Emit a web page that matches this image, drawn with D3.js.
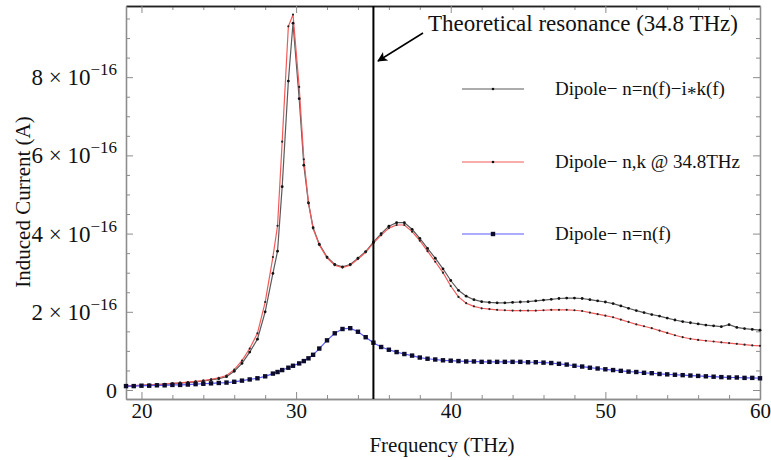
<!DOCTYPE html>
<html>
<head>
<meta charset="utf-8">
<script src="https://cdn.jsdelivr.net/npm/d3@7"></script>
<style>
  body { margin: 0; background: #fff; }
  svg { display: block; }
  text { font-family: "Liberation Serif", "Times New Roman", serif; fill: #111; }
</style>
</head>
<body>
<svg id="chart"></svg>
<script>
// frequencies in THz (finer sampling around the sharp peak)
const freq = [19,19.5,20,20.5,21,21.5,22,22.5,23,23.5,24,24.5,25,25.5,26,26.5,27,27.5,28,28.5,
  28.8,29.1,29.5,29.8,30.2,30.5,30.8,31.1,
  31.5,32,32.5,33,33.5,34,34.5,35,35.5,36,36.5,37,37.5,38,38.5,39,39.5,40,40.5,41,41.5,42,42.5,43,43.5,44,44.5,
  45,45.5,46,46.5,47,47.5,48,48.5,49,49.5,50,50.5,51,51.5,52,52.5,53,53.5,54,54.5,55,55.5,56,56.5,57,57.5,58,58.5,59,59.5,60];

// induced current, in units of 1e-16 A
const currentNK = [0.10,0.11,0.12,0.13,0.14,0.15,0.16,0.18,0.19,0.21,0.23,0.26,0.29,0.34,0.48,0.68,0.97,1.30,2.00,2.98,
  3.55,5.20,7.90,9.38,7.45,5.75,4.78,4.15,
  3.73,3.40,3.21,3.15,3.21,3.37,3.54,3.78,4.00,4.19,4.28,4.28,4.11,3.88,3.62,3.37,3.10,2.80,2.55,2.40,2.31,2.26,2.24,2.23,2.23,2.24,2.25,
  2.26,2.28,2.30,2.32,2.34,2.35,2.35,2.34,2.31,2.28,2.25,2.21,2.15,2.09,2.03,1.98,1.93,1.89,1.84,1.79,1.75,1.72,1.69,1.66,1.64,1.62,1.67,1.60,1.57,1.55,1.53];

const currentFixed = [0.10,0.11,0.12,0.13,0.14,0.15,0.17,0.18,0.20,0.22,0.24,0.27,0.31,0.37,0.52,0.75,1.06,1.45,2.25,3.40,
  4.20,6.35,9.30,9.60,7.75,5.90,4.80,4.13,
  3.71,3.38,3.19,3.13,3.19,3.35,3.52,3.76,3.96,4.14,4.22,4.22,4.05,3.82,3.55,3.28,3.00,2.66,2.38,2.22,2.14,2.09,2.07,2.05,2.04,2.03,2.03,
  2.03,2.03,2.04,2.05,2.05,2.05,2.04,2.02,1.98,1.94,1.90,1.86,1.80,1.74,1.68,1.63,1.58,1.52,1.46,1.40,1.35,1.31,1.28,1.26,1.24,1.22,1.20,1.18,1.16,1.14,1.13];

const currentN = [0.10,0.10,0.11,0.11,0.12,0.12,0.13,0.13,0.14,0.15,0.16,0.17,0.18,0.19,0.21,0.24,0.27,0.30,0.35,0.42,
  0.46,0.51,0.57,0.62,0.68,0.74,0.81,0.90,
  1.06,1.27,1.45,1.56,1.58,1.49,1.35,1.21,1.10,1.03,0.97,0.92,0.88,0.83,0.80,0.78,0.76,0.75,0.74,0.73,0.73,0.72,0.72,0.72,0.72,0.72,0.72,
  0.71,0.71,0.70,0.69,0.67,0.65,0.62,0.60,0.57,0.55,0.53,0.51,0.49,0.47,0.46,0.44,0.43,0.41,0.40,0.39,0.38,0.37,0.36,0.35,0.34,0.33,0.32,0.32,0.31,0.31,0.30];

// legend labels; the "∗" part is split so it can be drawn as a centred asterisk
const seriesNames = [["Dipole\u2212 n=n(f)\u2212i", "*", "k(f)"], ["Dipole\u2212 n,k @ 34.8THz"], ["Dipole\u2212 n=n(f)"]];
const xTicks = [20, 30, 40, 50, 60];
const xMinor = d3.range(20, 61, 2);
const yTicks = [0, 2, 4, 6, 8];
const yMinor = d3.range(0, 9.6, 0.5);
const resonance = 35;
const annotation = "Theoretical resonance (34.8 THz)";

const width = 771, height = 460;
const svg = d3.select("#chart").attr("width", width).attr("height", height);

const x = d3.scaleLinear().domain([19, 60]).range([126, 760]);
const y = d3.scaleLinear().domain([-0.23, 9.82]).range([399, 6]);

const frameGray = "#8c8c8c";

// frame + ticks (ticks point inward)
function drawSide(axisFn, scale, majors, minors, transform, stroke, labels) {
  const minorG = svg.append("g").attr("transform", transform)
    .call(axisFn(scale).tickValues(minors.filter(v => !majors.includes(v))).tickSize(-4).tickSizeOuter(0).tickFormat(""));
  const majorG = svg.append("g").attr("transform", transform)
    .call(axisFn(scale).tickValues(majors).tickSize(-7).tickSizeOuter(0)
      .tickPadding(axisFn === d3.axisLeft ? 9 : 4)
      .tickFormat(labels ? d3.format("d") : ""));
  [minorG, majorG].forEach(g => {
    g.attr("font-family", null);
    g.selectAll("line").attr("stroke", frameGray);
    g.select(".domain").attr("stroke", stroke).attr("stroke-width", 1.3);
  });
  majorG.selectAll("text").attr("font-size", 21).attr("fill", "#111");
  return majorG;
}

drawSide(d3.axisBottom, x, xTicks, xMinor, `translate(0,${y.range()[0]})`, frameGray, true);
drawSide(d3.axisTop, x, xTicks, xMinor, `translate(0,${y.range()[1]})`, "#222", false);
const yAxisG = drawSide(d3.axisLeft, y, yTicks, yMinor, `translate(${x.range()[0]},0)`, frameGray, true);
drawSide(d3.axisRight, y, yTicks, yMinor, `translate(${x.range()[1]},0)`, frameGray, false);

// y labels as  n × 10^-16
yAxisG.selectAll(".tick text").each(function(d) {
  const t = d3.select(this).text(null).attr("dy", "0.33em").attr("font-size", 23);
  if (d === 0) { t.attr("font-size", 22).text("0"); return; }
  t.append("tspan").text(`${d} \u00d7 10`);
  t.append("tspan").attr("dy", -10).attr("font-size", 17).text("\u221216");
});

// series
const pts = arr => freq.map((f, i) => [f, arr[i]]);
const line = d3.line().x(d => x(d[0])).y(d => y(d[1]));

svg.append("path").datum(pts(currentNK))
  .attr("fill", "none").attr("stroke", "#5a5a5a").attr("stroke-width", 1.2).attr("d", line);
svg.append("path").datum(pts(currentFixed))
  .attr("fill", "none").attr("stroke", "#f25a5a").attr("stroke-width", 1.2).attr("d", line);
svg.append("path").datum(pts(currentN))
  .attr("fill", "none").attr("stroke", "#5a5aff").attr("stroke-width", 1.2).attr("d", line);

svg.append("g").selectAll("circle").data(pts(currentNK)).join("circle")
  .attr("cx", d => x(d[0])).attr("cy", d => y(d[1])).attr("r", 1.4).attr("fill", "#111");
svg.append("g").selectAll("circle").data(pts(currentFixed)).join("circle")
  .attr("cx", d => x(d[0])).attr("cy", d => y(d[1])).attr("r", 1.1).attr("fill", "#222");
svg.append("g").selectAll("rect").data(pts(currentN)).join("rect")
  .attr("x", d => x(d[0]) - 2.2).attr("y", d => y(d[1]) - 2.2)
  .attr("width", 4.4).attr("height", 4.4).attr("fill", "#0c0c2a");

// resonance marker line
svg.append("line")
  .attr("x1", x(resonance)).attr("x2", x(resonance))
  .attr("y1", y.range()[1]).attr("y2", y.range()[0])
  .attr("stroke", "#000").attr("stroke-width", 2);

// annotation + arrow
svg.append("text").attr("x", 428).attr("y", 31).attr("font-size", 23).text(annotation);
svg.append("defs").append("marker")
  .attr("id", "arrow").attr("viewBox", "0 0 10 10").attr("refX", 9).attr("refY", 5)
  .attr("markerWidth", 12).attr("markerHeight", 10).attr("markerUnits", "userSpaceOnUse")
  .attr("orient", "auto")
  .append("path").attr("d", "M0,0 L10,5 L0,10 L2.5,5 Z").attr("fill", "#000");
svg.append("line")
  .attr("x1", 423).attr("y1", 33).attr("x2", 378).attr("y2", 61)
  .attr("stroke", "#000").attr("stroke-width", 1.5).attr("marker-end", "url(#arrow)");

// legend
const legendColors = ["#5a5a5a", "#f25a5a", "#5a5aff"];
const legendY = [89, 162, 234];
const legend = svg.append("g").selectAll("g").data(seriesNames).join("g")
  .attr("transform", (d, i) => `translate(462,${legendY[i]})`);
legend.append("line").attr("x1", 0).attr("x2", 62)
  .attr("stroke", (d, i) => legendColors[i]).attr("stroke-width", 1.2);
legend.filter((d, i) => i < 2).append("circle").attr("cx", 31).attr("r", 1.3).attr("fill", "#111");
legend.filter((d, i) => i === 2).append("rect").attr("x", 28.8).attr("y", -2.2)
  .attr("width", 4.4).attr("height", 4.4).attr("fill", "#0c0c2a");
const legendText = legend.append("text").attr("x", 93).attr("y", 6).attr("font-size", 19);
legendText.each(function(parts) {
  const t = d3.select(this);
  t.append("tspan").text(parts[0]);
  if (parts.length > 1) {
    t.append("tspan").attr("dy", 5).text(parts[1]);
    t.append("tspan").attr("dy", -5).text(parts[2]);
  }
});

// axis titles
svg.append("text").attr("x", 442).attr("y", 452).attr("text-anchor", "middle")
  .attr("font-size", 21).text("Frequency (THz)");
svg.append("text").attr("transform", "translate(30,202) rotate(-90)").attr("text-anchor", "middle")
  .attr("font-size", 21).text("Induced Current (A)");
</script>
</body>
</html>
